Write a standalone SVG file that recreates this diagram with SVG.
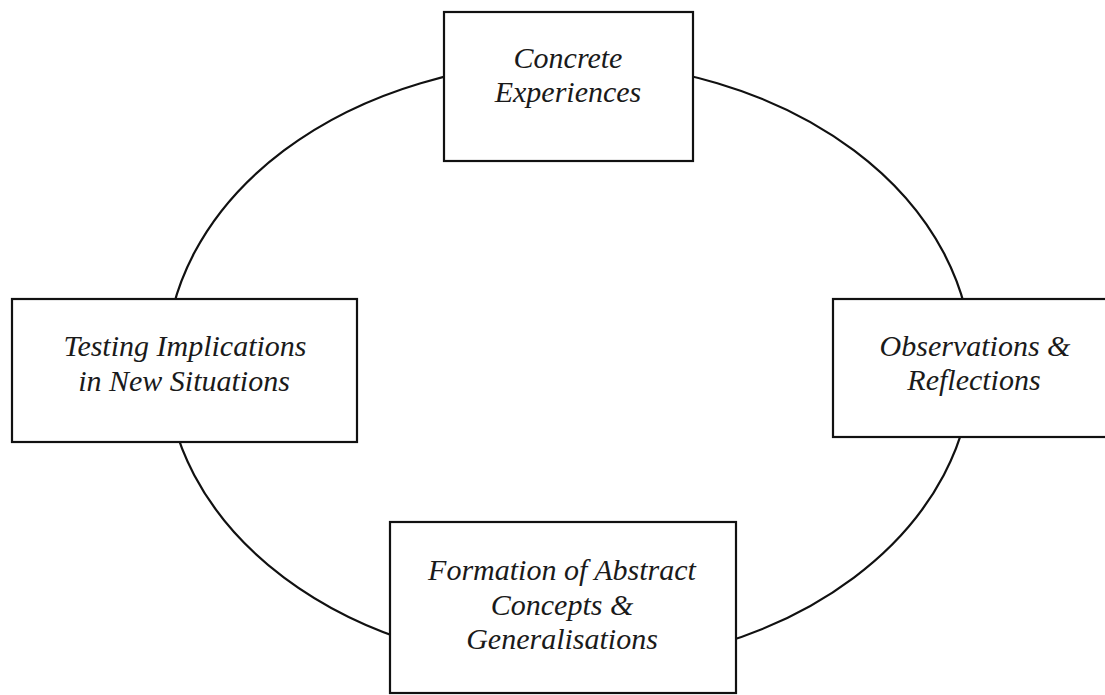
<svg xmlns="http://www.w3.org/2000/svg" width="1105" height="695" viewBox="0 0 1105 695">
<style>
.box{fill:#fff;stroke:#111;stroke-width:2.2}
.lbl{font-family:"Liberation Serif","Times New Roman",serif;font-style:italic;font-size:30px;fill:#1a1a1a;text-anchor:middle}
.cyc{fill:none;stroke:#111;stroke-width:2.2}
</style>
<rect x="0" y="0" width="1105" height="695" fill="#fff"/>
<g id="connectors">
<ellipse class="cyc" cx="569" cy="364" rx="403" ry="302"/>
</g>
<g id="node-concrete">
<rect class="box" x="444" y="12" width="249" height="149"/>
<text class="lbl" x="568" y="68">Concrete</text>
<text class="lbl" x="568" y="102">Experiences</text>
</g>
<g id="node-observations">
<rect class="box" x="833" y="299" width="290" height="138"/>
<text class="lbl" x="975" y="356">Observations &amp;</text>
<text class="lbl" x="974" y="390">Reflections</text>
</g>
<g id="node-formation">
<rect class="box" x="390" y="522" width="346" height="171"/>
<text class="lbl" x="562" y="580">Formation of Abstract</text>
<text class="lbl" x="562" y="615">Concepts &amp;</text>
<text class="lbl" x="562" y="649">Generalisations</text>
</g>
<g id="node-testing">
<rect class="box" x="12" y="299" width="345" height="143"/>
<text class="lbl" x="185" y="356">Testing Implications</text>
<text class="lbl" x="184" y="391">in New Situations</text>
</g>
</svg>
